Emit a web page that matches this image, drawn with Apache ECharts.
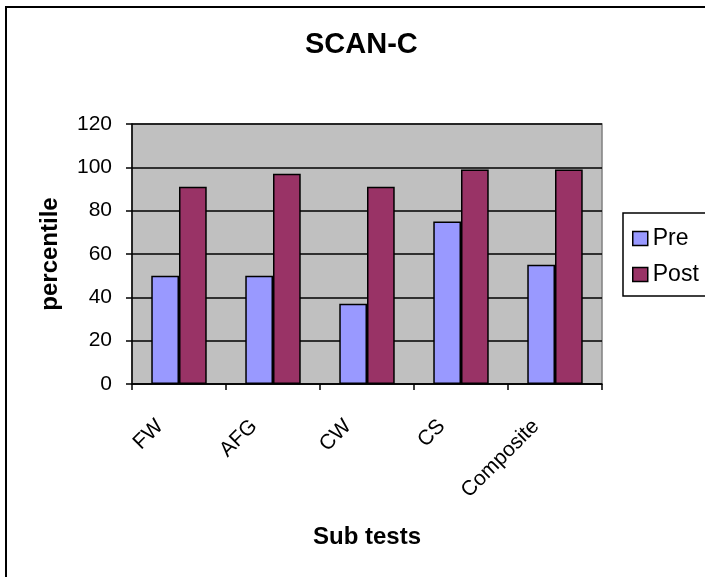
<!DOCTYPE html>
<html>
<head>
<meta charset="utf-8">
<script src="https://cdn.jsdelivr.net/npm/echarts@6/dist/echarts.min.js"></script>
<style>
html,body{margin:0;padding:0;background:#fff;}
#c{width:705px;height:577px;}
</style>
</head>
<body>
<div id="c"></div>
<script>
var categories = ['FW', 'AFG', 'CW', 'CS', 'Composite'];
var preValues = [50, 50, 37, 75, 55];
var postValues = [91, 97, 91, 99, 99];
var yTicks = [0, 20, 40, 60, 80, 100, 120];

var chart = echarts.init(document.getElementById('c'), null, {renderer: 'canvas'});
var font = 'Liberation Sans, Arial, sans-serif';
chart.setOption({
  animation: false,
  backgroundColor: '#ffffff',
  textStyle: {fontFamily: font},
  title: {
    text: 'SCAN-C',
    left: 300,
    top: 25,
    textStyle: {fontSize: 29, fontWeight: 'bold', color: '#000', fontFamily: font}
  },
  graphic: [{
    type: 'rect',
    shape: {x: 6, y: 7, width: 800, height: 700},
    style: {fill: 'none', stroke: '#000', lineWidth: 2},
    z: 100
  }],
  legend: {
    orient: 'vertical',
    left: 623,
    top: 213,
    padding: [14, 20, 10, 9],
    itemWidth: 15,
    itemHeight: 14,
    itemGap: 13,
    borderColor: '#000',
    borderWidth: 1.5,
    backgroundColor: '#fff',
    icon: 'rect',
    itemStyle: {borderColor: '#000', borderWidth: 1.5},
    textStyle: {fontSize: 23, color: '#000', fontFamily: font},
    data: ['Pre', 'Post']
  },
  grid: {
    left: 132, right: 103, top: 124, bottom: 193,
    show: true,
    backgroundColor: '#c0c0c0',
    borderColor: '#808080',
    borderWidth: 1.5
  },
  xAxis: {
    type: 'category',
    data: categories,
    name: 'Sub tests',
    nameLocation: 'middle',
    nameGap: 141,
    nameTextStyle: {fontSize: 24, fontWeight: 'bold', color: '#000', fontFamily: font},
    axisLine: {show: true, lineStyle: {color: '#000', width: 1.5}},
    axisTick: {show: true, inside: false, length: 6, lineStyle: {color: '#000', width: 1.5}},
    axisLabel: {rotate: 45, fontSize: 21, color: '#000', margin: 20, padding: [0, 27, 0, 0], fontFamily: font, interval: 0},
    splitLine: {show: false}
  },
  yAxis: {
    type: 'value',
    min: 0, max: 120, interval: 20,
    name: 'percentile',
    nameLocation: 'middle',
    nameRotate: 90,
    nameGap: 70,
    nameTextStyle: {fontSize: 24, fontWeight: 'bold', color: '#000', fontFamily: font},
    axisLine: {show: true, lineStyle: {color: '#000', width: 1.5}},
    axisTick: {show: true, inside: false, length: 6, lineStyle: {color: '#000', width: 1.5}},
    axisLabel: {fontSize: 21, color: '#000', margin: 20, fontFamily: font,
      formatter: function (v) { return yTicks.indexOf(v) >= 0 ? String(v) : ''; }},
    splitLine: {show: true, lineStyle: {color: '#000', width: 1.5}}
  },
  series: [{
    name: 'Pre',
    type: 'bar',
    data: preValues,
    barGap: '0%',
    barCategoryGap: '41%',
    itemStyle: {color: '#9999ff', borderColor: '#000', borderWidth: 1.5}
  }, {
    name: 'Post',
    type: 'bar',
    data: postValues,
    barGap: '0%',
    barCategoryGap: '41%',
    itemStyle: {color: '#993366', borderColor: '#000', borderWidth: 1.5}
  }]
});
</script>
</body>
</html>
